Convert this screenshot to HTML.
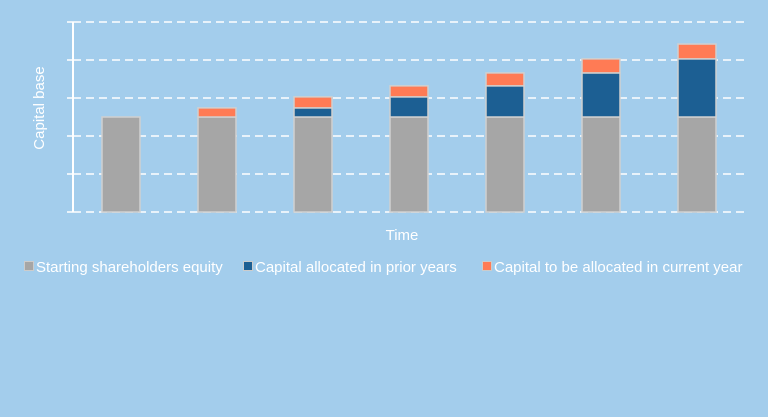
<!DOCTYPE html>
<html><head><meta charset="utf-8"><style>
html,body{margin:0;padding:0;background:#a3cdec;}
svg{display:block;font-family:"Liberation Sans",sans-serif;}
</style></head><body>
<svg id="chart" width="768" height="417">
<rect width="768" height="417" fill="#a3cdec"/>
<g id="grid"></g>
<g id="bars"></g>
<line x1="73" y1="22" x2="73" y2="212" stroke="#fff" stroke-width="2"/>
<text x="44" y="108" fill="#fff" font-size="15" text-anchor="middle" transform="rotate(-90 44 108)">Capital base</text>
<text x="402" y="240" fill="#fff" font-size="15" text-anchor="middle">Time</text>
<g>
<g><rect x="24.5" y="261.5" width="9" height="9" fill="#a6a6a6" stroke="#ccc"/><text x="36" y="272" fill="#fff" font-size="15">Starting shareholders equity</text></g>
<g><rect x="243.5" y="261.5" width="9" height="9" fill="#1c5f93" stroke="#ccc"/><text x="255" y="272" fill="#fff" font-size="15">Capital allocated in prior years</text></g>
<g><rect x="482.5" y="261.5" width="9" height="9" fill="#ff7b55" stroke="#ccc"/><text x="494" y="272" fill="#fff" font-size="15">Capital to be allocated in current year</text></g>
</g>
</svg>
<script>
const categories=["Y1","Y2","Y3","Y4","Y5","Y6","Y7"];
const equity=[2.5,2.5,2.5,2.5,2.5,2.5,2.5];
const prior=[0,0,0.24,0.53,0.82,1.16,1.53];
const current=[0,0.24,0.29,0.29,0.34,0.37,0.39];
const yTicks=[0,1,2,3,4,5];
const NS="http://www.w3.org/2000/svg";
const x0=73,x1=745,y0=212,yMax=5,yTop=22;
function yS(v){return y0-(v/yMax)*(y0-yTop);}
function xS(i){return x0+(i+0.5)*(x1-x0)/categories.length;}
const grid=document.getElementById('grid'),bars=document.getElementById('bars');
yTicks.forEach(t=>{
 const l=document.createElementNS(NS,'line');
 l.setAttribute('x1',x0);l.setAttribute('x2',x1);l.setAttribute('y1',yS(t));l.setAttribute('y2',yS(t));
 l.setAttribute('stroke','#fff');l.setAttribute('stroke-width','1.5');l.setAttribute('stroke-dasharray','8 5');
 
 
 grid.appendChild(l);
 const tk=document.createElementNS(NS,'line');
 tk.setAttribute('x1',67);tk.setAttribute('x2',x0);tk.setAttribute('y1',yS(t));tk.setAttribute('y2',yS(t));
 tk.setAttribute('stroke','#fff');tk.setAttribute('stroke-width','1.5');
 
 
 grid.appendChild(tk);
});
const series=[[equity,'#a6a6a6','equity'],[prior,'#1c5f93','prior'],[current,'#ff7b55','current']];
const bw=38;
categories.forEach((c,i)=>{
 let base=0;
 series.forEach(([arr,col,nm])=>{
  const v=arr[i];
  if(v>0){
   const r=document.createElementNS(NS,'rect');
   r.setAttribute('x',xS(i)-bw/2);r.setAttribute('width',bw);
   r.setAttribute('y',yS(base+v));r.setAttribute('height',yS(base)-yS(base+v));
   r.setAttribute('fill',col);r.setAttribute('stroke','#d0d0d0');r.setAttribute('stroke-width','1.5');
   
   
   bars.appendChild(r);
  }
  base+=v;
 });
});
</script>
</body></html>
